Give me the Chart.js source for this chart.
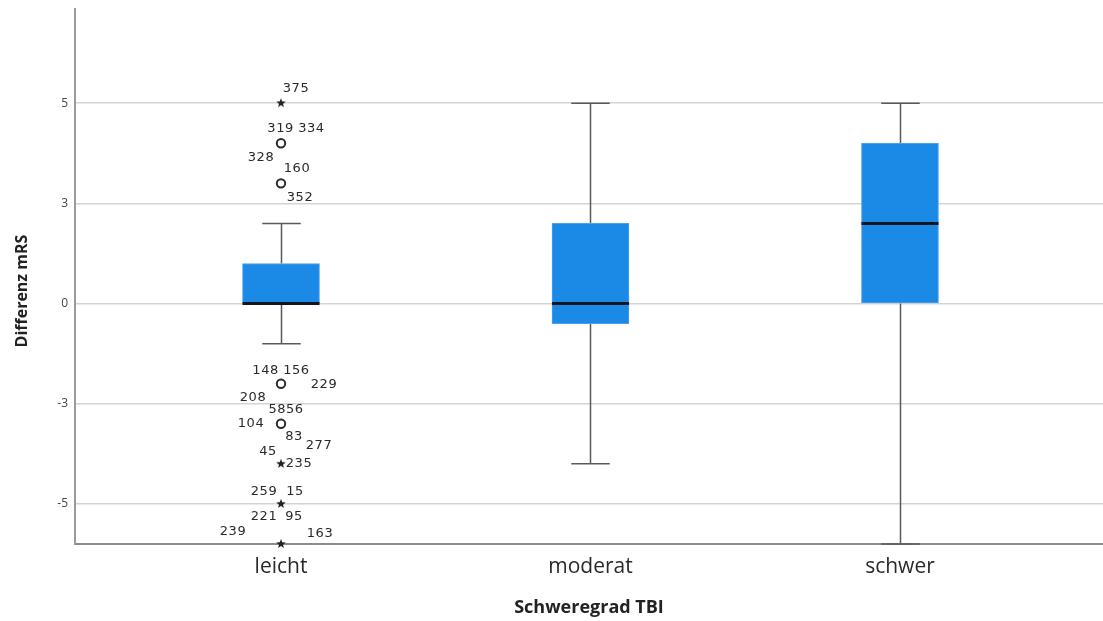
<!DOCTYPE html>
<html>
<head>
<meta charset="utf-8">
<script src="https://cdn.jsdelivr.net/npm/chart.js@4"></script>
<style>
  html, body { margin: 0; padding: 0; background: #ffffff; overflow: hidden; }
  #wrap { width: 1103px; height: 621px; }
  canvas { display: block; }
</style>
</head>
<body>
<div id="wrap"><canvas id="c" width="1103" height="621"></canvas></div>
<script>
// Severity groups and their box-plot summaries (Differenz mRS)
const groups = ['leicht', 'moderat', 'schwer'];
const groupPos = [1, 2, 3];
const whiskerLow = [-1, -4, -6];
const q1 = [0, -0.5, 0];
const median = [0, 0, 2];
const q3 = [1, 2, 4];
const whiskerHigh = [2, 5, 5];

// Y axis ticks and their printed labels
const yTickValues = [-5, -2.5, 0, 2.5, 5];
const yTickLabels = ['-5', '-3', '0', '3', '5'];

// Outliers (all in group "leicht"): value, kind, case numbers
const outlierGroup = [0, 0, 0, 0, 0, 0, 0, 0];
const outlierValue = [5, 4, 3, -2, -3, -4, -5, -6];
const outlierKind = ['extreme', 'mild', 'mild', 'mild', 'mild', 'extreme', 'extreme', 'extreme'];
const outlierCases = [
  ['375'],
  ['319 334', '328'],
  ['160', '352'],
  ['148 156', '229', '208'],
  ['5856', '104', '83', '277'],
  ['45', '235'],
  ['259', '15', '221', '95'],
  ['239', '163']
];
// Placement of each case label relative to its marker (px)
const caseLabelOffsets = [
  [[15, -15]],
  [[15, -15], [-20, 14]],
  [[16, -15], [19, 14]],
  [[0, -13], [43, 1], [-28, 14]],
  [[5, -14], [-30, 0], [13, 13], [38, 22]],
  [[-13, -12], [18, 0]],
  [[-17, -12], [14, -12], [-17, 13], [13, 13]],
  [[-48, -12], [39, -10]]
];

const BOX_BLUE = '#1a8ae6';

// Small filled star used for extreme values
function makeStar() {
  const s = document.createElement('canvas');
  s.width = 12; s.height = 12;
  const g = s.getContext('2d');
  g.fillStyle = '#222';
  g.beginPath();
  for (let k = 0; k < 10; k++) {
    const r = k % 2 === 0 ? 5 : 2.1;
    const a = -Math.PI / 2 + k * Math.PI / 5;
    const px = 6 + r * Math.cos(a), py = 6 + r * Math.sin(a);
    if (k === 0) g.moveTo(px, py); else g.lineTo(px, py);
  }
  g.closePath();
  g.fill();
  return s;
}
const starImg = makeStar();

const mildPts = [], extremePts = [];
outlierValue.forEach((v, i) => {
  const p = { x: groupPos[outlierGroup[i]], y: v };
  (outlierKind[i] === 'mild' ? mildPts : extremePts).push(p);
});

// Whiskers, caps and median lines drawn with the chart's scales
const boxParts = {
  id: 'boxParts',
  beforeDatasetsDraw(chart) {
    const { ctx, scales: { y } } = chart;
    const meta = chart.getDatasetMeta(0);
    ctx.save();
    ctx.strokeStyle = '#5a5a5a';
    ctx.lineWidth = 1.5;
    groupPos.forEach((g, i) => {
      const bar = meta.data[i];
      const cx = Math.round(bar.x) + 0.5;
      const capHalf = bar.width / 4;
      const yHi = y.getPixelForValue(whiskerHigh[i]);
      const yLo = y.getPixelForValue(whiskerLow[i]);
      const yQ3 = y.getPixelForValue(q3[i]);
      const yQ1 = y.getPixelForValue(q1[i]);
      ctx.beginPath();
      ctx.moveTo(cx, yQ3); ctx.lineTo(cx, yHi);
      ctx.moveTo(cx, yQ1); ctx.lineTo(cx, yLo);
      ctx.moveTo(cx - capHalf, yHi); ctx.lineTo(cx + capHalf, yHi);
      ctx.moveTo(cx - capHalf, yLo); ctx.lineTo(cx + capHalf, yLo);
      ctx.stroke();
    });
    ctx.restore();
  },
  afterDatasetDraw(chart, args) {
    if (args.index !== 0) return;
    const { ctx, scales: { y } } = chart;
    const meta = chart.getDatasetMeta(0);
    ctx.save();
    ctx.strokeStyle = '#0d1620';
    ctx.lineWidth = 3;
    groupPos.forEach((g, i) => {
      const bar = meta.data[i];
      const ym = y.getPixelForValue(median[i]);
      ctx.beginPath();
      ctx.moveTo(bar.x - bar.width / 2, ym);
      ctx.lineTo(bar.x + bar.width / 2, ym);
      ctx.stroke();
    });
    ctx.restore();
  }
};

// Case numbers next to the outliers, plus the vertical axis title
const caseLabels = {
  id: 'caseLabels',
  afterDatasetsDraw(chart) {
    const { ctx, scales: { x, y } } = chart;
    ctx.save();
    ctx.font = '13px "DejaVu Sans"';
    ctx.fillStyle = '#2a2a2a';
    ctx.textAlign = 'center';
    ctx.textBaseline = 'middle';
    if ('letterSpacing' in ctx) ctx.letterSpacing = '0.5px';
    outlierValue.forEach((v, i) => {
      const px = x.getPixelForValue(groupPos[outlierGroup[i]]);
      const py = y.getPixelForValue(v);
      outlierCases[i].forEach((txt, j) => {
        const [dx, dy] = caseLabelOffsets[i][j];
        ctx.fillText(txt, px + dx, py + dy);
      });
    });
    ctx.restore();

    ctx.save();
    ctx.font = 'bold 16px "Open Sans"';
    ctx.fillStyle = '#222';
    ctx.textAlign = 'center';
    ctx.textBaseline = 'middle';
    ctx.translate(22, 291);
    ctx.rotate(-Math.PI / 2);
    ctx.fillText('Differenz mRS', 0, 0);
    ctx.restore();
  }
};

new Chart(document.getElementById('c'), {
  type: 'bar',
  data: {
    datasets: [
      {
        type: 'bar',
        data: groupPos.map((g, i) => ({ x: g, y: [q1[i], q3[i]] })),
        backgroundColor: BOX_BLUE,
        borderColor: '#4aa2ee',
        borderWidth: 1,
        borderSkipped: false,
        barThickness: 77,
        order: 2
      },
      {
        type: 'scatter',
        data: mildPts,
        pointStyle: 'circle',
        pointRadius: 4.2,
        pointBorderWidth: 2,
        pointBorderColor: '#2a2a2a',
        pointBackgroundColor: 'rgba(255,255,255,0)',
        clip: false,
        order: 1
      },
      {
        type: 'scatter',
        data: extremePts,
        pointStyle: starImg,
        pointRadius: 5,
        clip: false,
        order: 1
      }
    ]
  },
  options: {
    responsive: false,
    animation: false,
    devicePixelRatio: 1,
    layout: { autoPadding: false, padding: { top: 9, right: 0, bottom: 0, left: 0 } },
    plugins: {
      legend: { display: false },
      tooltip: { enabled: false }
    },
    scales: {
      x: {
        type: 'linear',
        min: 0.3344,
        max: 3.656,
        offset: false,
        grid: { display: false, offset: false },
        border: { display: true, color: '#8c8c8c', width: 2 },
        afterBuildTicks(s) { s.ticks = groupPos.map(v => ({ value: v })); },
        afterFit(s) { s.height = 77; s.paddingLeft = 0; s.paddingRight = 0; },
        ticks: {
          autoSkip: false,
          maxRotation: 0,
          padding: 2,
          color: '#2a2a2a',
          font: { family: '"Open Sans"', size: 21 },
          callback: (v) => groups[groupPos.indexOf(v)] ?? ''
        },
        title: {
          display: true,
          text: 'Schweregrad TBI',
          color: '#222',
          font: { family: '"Open Sans"', size: 18, weight: 'bold' },
          padding: { top: 0, bottom: 2 }
        }
      },
      y: {
        type: 'linear',
        min: -6,
        max: 7.35,
        grid: { color: '#d4d4d4', lineWidth: 1.5, drawTicks: false },
        border: { display: true, color: '#9a9a9a', width: 2 },
        afterBuildTicks(s) { s.ticks = yTickValues.map(v => ({ value: v })); },
        afterFit(s) { s.width = 75; s.paddingTop = 0; s.paddingBottom = 0; },
        ticks: {
          padding: 7,
          color: '#444',
          font: { family: '"Open Sans"', size: 12 },
          callback: (v) => yTickLabels[yTickValues.indexOf(v)] ?? ''
        }
      }
    }
  },
  plugins: [boxParts, caseLabels]
});
</script>
</body>
</html>
